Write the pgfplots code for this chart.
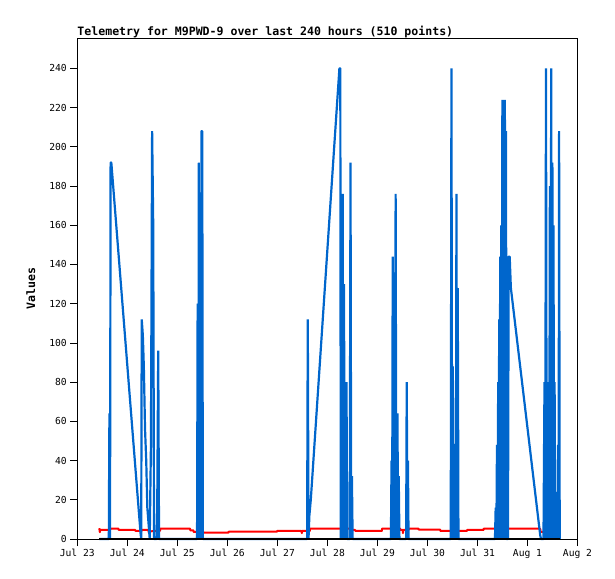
\documentclass[border=0pt]{standalone}
\usepackage{fontspec}
\setmonofont{DejaVu Sans Mono}
\usepackage{pgfplots}
\pgfplotsset{compat=1.18}
\definecolor{tblue}{RGB}{0,102,204}
\begin{document}
\begin{tikzpicture}
\useasboundingbox (0,0) rectangle (615bp,579bp);
\begin{axis}[
 at={(77.3bp,40bp)}, anchor=south west,
 scale only axis, width=500.2bp, height=501bp,
 xmin=0, xmax=240, ymin=0, ymax=255.5,
 xtick={0,24,...,240},
 xticklabels={Jul 23,Jul 24,Jul 25,Jul 26,Jul 27,Jul 28,Jul 29,Jul 30,Jul 31,Aug 1,Aug 2},
 ytick={0,20,...,240},
 tick align=outside, major tick length=7bp,
 xtick pos=bottom, ytick pos=left,
 axis line style={line width=0.8bp},
 tick style={line width=0.8bp, black},
 ticklabel style={font=\fontsize{9.7}{10}\selectfont\ttfamily},
 /pgf/number format/assume math mode=true,
 title={Telemetry for M9PWD-9 over last 240 hours (510 points)},
 title style={at={(0,1)}, anchor=base west, yshift=-3bp, inner sep=0pt, font=\fontsize{11.6}{12}\selectfont\ttfamily\bfseries},
 ylabel={Values},
 ylabel style={at={(axis description cs:-0.0845,0.5)}, anchor=base, inner sep=0pt, font=\fontsize{11.6}{12}\selectfont\ttfamily\bfseries},
 clip=false,
]
% red series
\addplot[red, line width=2bp, line join=round] coordinates {
(10.56,5.5)(10.80,3.5)(11.04,4.7)(15.70,4.7)(15.84,5.3)(19.68,5.3)(19.82,4.7)
(27.70,4.7)(27.84,4.2)(30.91,4.2)(31.06,4.7)(34.08,4.7)(34.22,3.6)(35.86,4.0)
(37.30,4.0)(37.44,4.2)(39.70,4.2)(39.84,5.3)(54.10,5.3)(54.24,4.4)(55.68,4.4)
(55.82,3.6)(60.48,3.6)(60.62,3.2)(72.48,3.2)(72.62,3.7)(95.71,3.7)(95.86,4.1)
(107.52,4.1)(107.71,3.0)(107.95,4.1)(111.55,4.1)(111.70,5.3)(130.90,5.3)
(131.04,3.6)(131.38,4.6)(133.30,4.6)(133.44,4.1)(146.11,4.1)(146.26,5.3)
(154.90,5.3)(155.04,4.6)(156.10,4.6)(156.24,3.0)(156.48,4.6)(158.88,4.6)
(159.02,5.3)(163.68,5.3)(163.82,4.8)(174.10,4.8)(174.24,4.1)(186.91,4.1)
(187.06,4.6)(194.88,4.6)(195.02,5.3)(201.31,5.3)(201.46,4.5)(202.90,4.5)
(203.04,3.8)(203.38,4.5)(206.11,4.5)(206.26,5.3)(222.10,5.3)(222.24,3.6)(230.11,3.6)
};
% blue series
\addplot[tblue, line width=2.2bp, line join=bevel] coordinates {
(10.56,0)(15.12,0)(15.41,64)(15.70,0)(15.98,192)(16.32,192)(30.34,3)(30.67,0)
(30.91,112)(31.44,104)(31.92,88)(32.50,56)(33.07,40)(33.60,16)(34.18,8)(34.75,0)
(35.33,48)(35.90,208)(36.43,160)(36.82,0)(38.02,0)(38.35,16)(38.83,96)(39.22,0)
(57.46,0)(57.74,120)(58.03,0)(58.32,192)(58.61,0)(58.94,112)(59.23,0)(59.57,208)(59.95,208)(60.24,0)
(110.26,0)(110.59,112)(110.93,0)(111.36,12)(112.03,20)(125.76,240)(126.19,240)(126.43,0)
(126.72,24)(127.06,0)(127.34,176)(127.68,0)(127.97,130)(128.26,0)(128.54,44)(128.83,0)
(129.17,80)(129.46,0)(130.70,0)(131.09,192)(131.42,0)(131.76,32)(132.10,0)
(150.48,0)(150.77,40)(151.06,0)(151.34,144)(151.68,0)(152.02,136)(152.35,0)(152.74,176)
(153.07,0)(153.31,16)(153.60,64)(153.94,0)(154.22,32)(154.56,0)
(157.78,0)(158.06,80)(158.40,0)(158.64,40)(158.93,0)
(179.18,0)(179.52,240)(179.86,0)(180.19,88)(180.48,0)(180.82,48)(181.30,48)(181.63,0)
(181.92,176)(182.26,0)(182.54,128)(182.88,0)
(200.40,0)(200.74,16)(201.07,0)(201.36,48)(201.65,0)(201.94,80)(202.18,0)(202.42,112)
(202.66,0)(202.90,144)(203.18,0)(203.38,160)(203.66,0)(203.95,224)(204.24,0)(204.53,224)
(204.86,0)(205.15,224)(205.44,0)(205.68,208)(205.97,0)(206.64,0)(206.98,144)(207.46,144)
(208.03,128)(222.10,2)(222.48,0)
(223.68,0)(224.16,80)(224.50,0)(224.88,240)(225.22,0)(225.55,60)(225.94,0)(226.18,80)
(226.42,0)(226.75,180)(227.04,0)(227.38,240)(227.66,0)(227.95,192)(228.24,0)(228.48,160)
(228.77,0)(229.01,80)(229.30,0)(230.16,24)(230.45,0)(230.69,48)(230.93,0)(231.17,208)(231.46,0)
};
% black series at zero
\addplot[black, line width=2bp] coordinates {(10.56,0)(231.6,0)};
\end{axis}
\end{tikzpicture}
\end{document}
